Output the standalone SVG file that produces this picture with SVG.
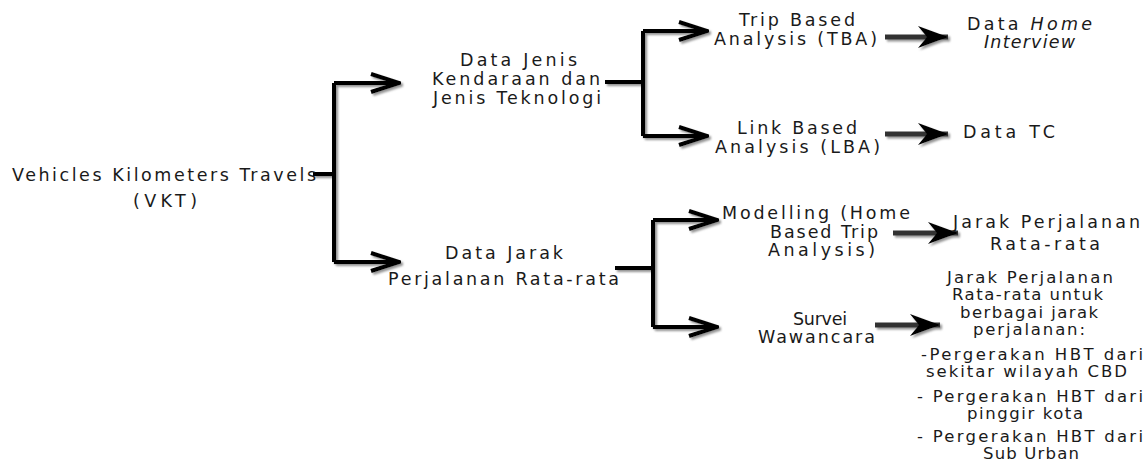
<svg xmlns="http://www.w3.org/2000/svg" width="1148" height="461" viewBox="0 0 1148 461">
<defs>
<style>
.t{font-family:"DejaVu Sans","Liberation Sans",Arial,sans-serif;font-size:17.5px;fill:#1a1a1a}
.s{font-size:16.5px}
.i{font-style:italic}
.c{fill:none;stroke:#000;stroke-width:4;stroke-linejoin:miter}
.r{fill:none;stroke:#333;stroke-width:5}
</style>
<filter id="sh" x="-10%" y="-10%" width="130%" height="130%">
<feDropShadow dx="2" dy="2" stdDeviation="1" flood-color="#777" flood-opacity="0.8"/>
</filter>
<marker id="chev" viewBox="0 0 32 24" refX="30" refY="12" markerWidth="32" markerHeight="24" markerUnits="userSpaceOnUse" orient="auto">
<path d="M2,3 L30,12 L2,21" fill="none" stroke="#000" stroke-width="4"/>
</marker>
<marker id="head" viewBox="0 0 30 22" refX="30" refY="11" markerWidth="30" markerHeight="22" markerUnits="userSpaceOnUse" orient="auto">
<path d="M0,0 L30,11 L0,22 L9,11 Z" fill="#000"/>
</marker>
</defs>
<rect width="1148" height="461" fill="#fff"/>

<g id="connectors" filter="url(#sh)">
<path class="c" d="M313,174 H334 M334,83 V262"/>
<path class="c" d="M334,83 H399" marker-end="url(#chev)"/>
<path class="c" d="M334,262 H399" marker-end="url(#chev)"/>
<path class="c" d="M605,82 H643 M643,31 V136"/>
<path class="c" d="M643,31 H707" marker-end="url(#chev)"/>
<path class="c" d="M643,136 H707" marker-end="url(#chev)"/>
<path class="c" d="M615,268 H653 M653,220 V327"/>
<path class="c" d="M653,220 H717" marker-end="url(#chev)"/>
<path class="c" d="M653,327 H717" marker-end="url(#chev)"/>
<path class="r" d="M885,37 H948" marker-end="url(#head)"/>
<path class="r" d="M885,134 H948" marker-end="url(#head)"/>
<path class="r" d="M893,233 H958" marker-end="url(#head)"/>
<path class="r" d="M875,325 H940" marker-end="url(#head)"/>
</g>

<g id="vkt">
<text class="t" x="12" y="181" textLength="304" lengthAdjust="spacing">Vehicles Kilometers Travels</text>
<text class="t" x="133" y="207" textLength="64" lengthAdjust="spacing">(VKT)</text>
</g>
<g id="data-jenis">
<text class="t" x="460" y="66" textLength="117" lengthAdjust="spacing">Data Jenis</text>
<text class="t" x="432" y="85" textLength="168" lengthAdjust="spacing">Kendaraan dan</text>
<text class="t" x="433" y="104" textLength="168" lengthAdjust="spacing">Jenis Teknologi</text>
</g>
<g id="data-jarak">
<text class="t" x="445" y="259" textLength="118" lengthAdjust="spacing">Data Jarak</text>
<text class="t" x="388" y="285" textLength="231" lengthAdjust="spacing">Perjalanan Rata-rata</text>
</g>
<g id="tba">
<text class="t" x="739" y="26" textLength="116" lengthAdjust="spacing">Trip Based</text>
<text class="t" x="714" y="45" textLength="163" lengthAdjust="spacing">Analysis (TBA)</text>
</g>
<g id="lba">
<text class="t" x="737" y="134" textLength="120" lengthAdjust="spacing">Link Based</text>
<text class="t" x="715" y="153" textLength="165" lengthAdjust="spacing">Analysis (LBA)</text>
</g>
<g id="data-home">
<text class="t" x="967" y="30" textLength="125" lengthAdjust="spacing">Data <tspan class="i">Home</tspan></text>
<text class="t i" x="984" y="48" textLength="91" lengthAdjust="spacing">Interview</text>
</g>
<g id="data-tc">
<text class="t" x="963" y="138" textLength="92" lengthAdjust="spacing">Data TC</text>
</g>
<g id="modelling">
<text class="t" x="722" y="219" textLength="188" lengthAdjust="spacing">Modelling (Home</text>
<text class="t" x="770" y="238" textLength="108" lengthAdjust="spacing">Based Trip</text>
<text class="t" x="768" y="256" textLength="107" lengthAdjust="spacing">Analysis)</text>
</g>
<g id="jarak-rata">
<text class="t" x="953" y="228" textLength="187" lengthAdjust="spacing">Jarak Perjalanan</text>
<text class="t" x="990" y="250" textLength="110" lengthAdjust="spacing">Rata-rata</text>
</g>
<g id="survei">
<text class="t" x="793" y="325" textLength="54" lengthAdjust="spacing">Survei</text>
<text class="t" x="758" y="343" textLength="117" lengthAdjust="spacing">Wawancara</text>
</g>
<g id="jarak-berbagai">
<text class="t s" x="947" y="283" textLength="166" lengthAdjust="spacing">Jarak Perjalanan</text>
<text class="t s" x="952" y="300" textLength="151" lengthAdjust="spacing">Rata-rata untuk</text>
<text class="t s" x="960" y="318" textLength="138" lengthAdjust="spacing">berbagai jarak</text>
<text class="t s" x="973" y="335" textLength="112" lengthAdjust="spacing">perjalanan:</text>
<text class="t s" x="921" y="360" textLength="222" lengthAdjust="spacing">-Pergerakan HBT dari</text>
<text class="t s" x="926" y="377" textLength="201" lengthAdjust="spacing">sekitar wilayah CBD</text>
<text class="t s" x="917" y="402" textLength="226" lengthAdjust="spacing">- Pergerakan HBT dari</text>
<text class="t s" x="967" y="419" textLength="116" lengthAdjust="spacing">pinggir kota</text>
<text class="t s" x="917" y="442" textLength="226" lengthAdjust="spacing">- Pergerakan HBT dari</text>
<text class="t s" x="983" y="459" textLength="96" lengthAdjust="spacing">Sub Urban</text>
</g>
</svg>
